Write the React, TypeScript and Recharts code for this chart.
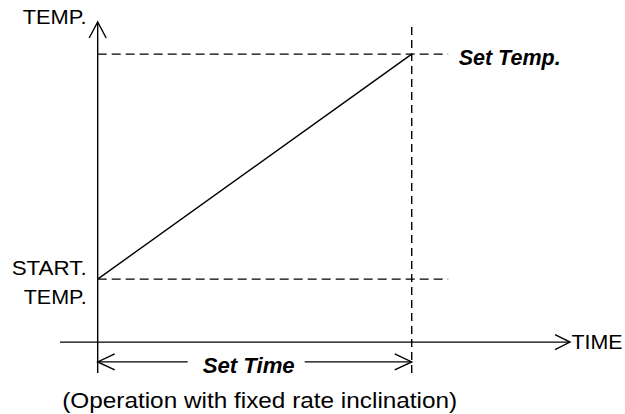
import { LineChart, Line, XAxis, YAxis, ReferenceLine } from "recharts";

// ramp: start temp -> set temp over the set time
const rampTime = [0, 10];
const rampTemp = [21, 96];

// axis extents (data units)
const timeDomain = [-1.2, 15.04];
const tempDomain = [-10.3, 106.7];
const guideEnd = 11.16; // where the dashed temp guides stop
const bracketTemp = -6.6; // level of the "Set Time" arrow

const axisLabels = ["TEMP.", "TIME"];
const levelLabels = ["Set Temp.", "START.", "TEMP."];
const spanLabel = "Set Time";
const caption = "(Operation with fixed rate inclination)";

const data = rampTime.map((t, i) => ({ t, temp: rampTemp[i] }));

const INK = "#000";
const FONT = "'Liberation Sans', Arial, sans-serif";
const SW = 1.4;

// the original lettering is a bit wider than Arial, so stretch to measured widths
const txt = { fontFamily: FONT, fontSize: 21, fill: INK, lengthAdjust: "spacingAndGlyphs" };
const bold = { ...txt, fontSize: 22, fontWeight: 700, fontStyle: "italic" };

function YAxisShape({ x1, y1, x2, y2 }: any) {
  const top = Math.min(y1, y2);
  const bot = Math.max(y1, y2);
  return (
    <g>
      <line x1={x1} y1={bot} x2={x1} y2={top} stroke={INK} strokeWidth={SW} />
      <polyline
        points={`${x1 - 8.5},${top + 16} ${x1},${top} ${x1 + 8.5},${top + 16}`}
        fill="none"
        stroke={INK}
        strokeWidth={SW}
      />
      <text x={x1 - 11} y={top + 2} textAnchor="end" textLength={64} {...txt}>
        {axisLabels[0]}
      </text>
    </g>
  );
}

function XAxisShape({ x1, y1, x2 }: any) {
  const right = Math.max(x1, x2);
  return (
    <g>
      <line x1={x1} y1={y1} x2={right} y2={y1} stroke={INK} strokeWidth={SW} />
      <polyline
        points={`${right - 15},${y1 - 7.5} ${right},${y1} ${right - 15},${y1 + 7.5}`}
        fill="none"
        stroke={INK}
        strokeWidth={SW}
      />
      <text x={right + 1.5} y={y1 + 6.5} textLength={51} {...txt}>
        {axisLabels[1]}
      </text>
    </g>
  );
}

function SetTempShape({ x1, y1, x2 }: any) {
  return (
    <g>
      <line x1={x1} y1={y1} x2={x2} y2={y1} stroke={INK} strokeWidth={SW} strokeDasharray="9 5" />
      <text x={x2 + 10.5} y={y1 + 11} textLength={102} {...bold}>
        {levelLabels[0]}
      </text>
    </g>
  );
}

function StartTempShape({ x1, y1, x2 }: any) {
  return (
    <g>
      <line x1={x1} y1={y1} x2={x2} y2={y1} stroke={INK} strokeWidth={SW} strokeDasharray="9 5" />
      <text x={x1 - 11} y={y1 - 4} textAnchor="end" textLength={75} {...txt}>
        {levelLabels[1]}
      </text>
      <text x={x1 - 11} y={y1 + 25} textAnchor="end" textLength={63} {...txt}>
        {levelLabels[2]}
      </text>
    </g>
  );
}

function SetTimeShape({ x1, y1, x2 }: any) {
  const mid = (x1 + x2) / 2;
  const gapL = mid - 67;
  const gapR = mid + 50;
  return (
    <g>
      <line x1={x1} y1={y1} x2={gapL} y2={y1} stroke={INK} strokeWidth={SW} />
      <line x1={gapR} y1={y1} x2={x2} y2={y1} stroke={INK} strokeWidth={SW} />
      <polyline
        points={`${x1 + 17},${y1 - 8} ${x1},${y1} ${x1 + 17},${y1 + 8}`}
        fill="none"
        stroke={INK}
        strokeWidth={SW}
      />
      <polyline
        points={`${x2 - 17},${y1 - 8} ${x2},${y1} ${x2 - 17},${y1 + 8}`}
        fill="none"
        stroke={INK}
        strokeWidth={SW}
      />
      <text x={mid - 6} y={y1 + 11} textAnchor="middle" textLength={92} {...bold}>
        {spanLabel}
      </text>
      <text x={mid + 5} y={y1 + 46} textAnchor="middle" textLength={395} {...txt} fontSize={22}>
        {caption}
      </text>
    </g>
  );
}

export default function App() {
  return (
    <div style={{ width: 625, height: 414, background: "#fff" }}>
      <style>{`body{margin:0}`}</style>
      <LineChart
        width={625}
        height={414}
        data={data}
        margin={{ top: 22, right: 55, bottom: 41, left: 60 }}
      >
        <XAxis type="number" dataKey="t" domain={timeDomain} hide allowDataOverflow />
        <YAxis type="number" domain={tempDomain} hide allowDataOverflow />

        {/* set temp / start temp guides */}
        <ReferenceLine
          ifOverflow="visible"
          segment={[
            { x: rampTime[0], y: rampTemp[1] },
            { x: guideEnd, y: rampTemp[1] },
          ]}
          shape={SetTempShape}
        />
        <ReferenceLine
          ifOverflow="visible"
          segment={[
            { x: rampTime[0], y: rampTemp[0] },
            { x: guideEnd, y: rampTemp[0] },
          ]}
          shape={StartTempShape}
        />
        {/* set time guide */}
        <ReferenceLine
          ifOverflow="visible"
          x={rampTime[1]}
          stroke={INK}
          strokeWidth={SW}
          strokeDasharray="8 5"
        />

        {/* axes drawn by hand (arrows) */}
        <ReferenceLine
          ifOverflow="visible"
          segment={[
            { x: rampTime[0], y: tempDomain[0] },
            { x: rampTime[0], y: tempDomain[1] },
          ]}
          shape={YAxisShape}
        />
        <ReferenceLine
          ifOverflow="visible"
          segment={[
            { x: timeDomain[0], y: 0 },
            { x: timeDomain[1], y: 0 },
          ]}
          shape={XAxisShape}
        />
        <ReferenceLine
          ifOverflow="visible"
          segment={[
            { x: rampTime[0], y: bracketTemp },
            { x: rampTime[1], y: bracketTemp },
          ]}
          shape={SetTimeShape}
        />

        <Line
          dataKey="temp"
          stroke={INK}
          strokeWidth={SW}
          dot={false}
          activeDot={false}
          isAnimationActive={false}
        />
      </LineChart>
    </div>
  );
}
